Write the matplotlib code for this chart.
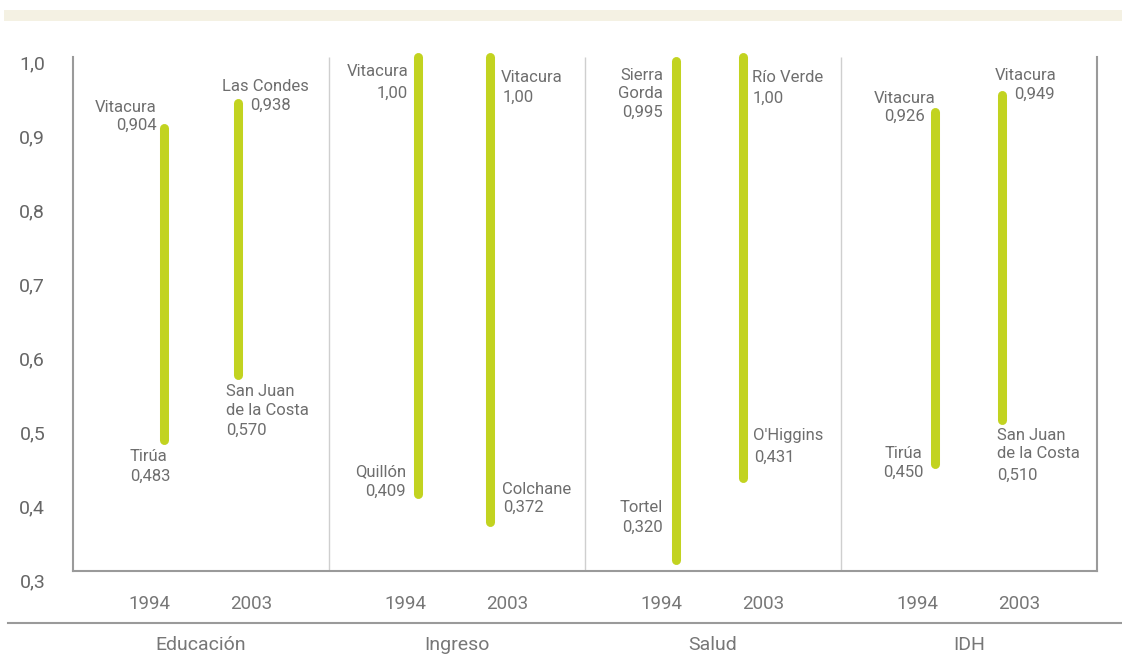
import matplotlib
matplotlib.use("Agg")
import matplotlib.pyplot as plt
from matplotlib.lines import Line2D
from matplotlib.patches import Rectangle
from matplotlib.transforms import ScaledTranslation, blended_transform_factory

plt.rcParams['font.family'] = ['Roboto', 'DejaVu Sans']

# datos
groups = ["Educación", "Ingreso", "Salud", "IDH"]
years = ["1994", "2003"]
low_vals = [[0.483, 0.570], [0.409, 0.372], [0.320, 0.431], [0.450, 0.510]]
high_vals = [[0.904, 0.938], [1.00, 1.00], [0.995, 1.00], [0.926, 0.949]]
low_names = [["Tirúa", "San Juan\nde la Costa"], ["Quillón", "Colchane"],
             ["Tortel", "O'Higgins"], ["Tirúa", "San Juan\nde la Costa"]]
high_names = [["Vitacura", "Las Condes"], ["Vitacura", "Vitacura"],
              ["Sierra\nGorda", "Río Verde"], ["Vitacura", "Vitacura"]]
y_ticks = [0.3, 0.4, 0.5, 0.6, 0.7, 0.8, 0.9, 1.0]

GREEN = "#c2d320"
TXT = "#6e6e6e"
AXC = "#9a9a9a"
Y_BOTTOM = 0.3054  # donde queda el eje inferior

# posiciones (layout)
bar_x = [[0.355, 0.645], [1.348, 1.629], [2.355, 2.617], [3.367, 3.629]]
# (name_dx, name_dy, name_ha, val_dx, val_dy, val_ha) en pixeles
hi_off = [[(-7, 21, 'right', -7, 3, 'right'), (-16, 16, 'left', 12, -2, 'left')],
          [(-10, -15, 'right', -10, -36, 'right'), (11, -20, 'left', 13, -40, 'left')],
          [(-13, -24, 'right', -13, -52, 'right'), (9, -20, 'left', 10, -41, 'left')],
          [(1, 13, 'right', -10, -5, 'right'), (54, 19, 'right', 53, 0, 'right')]]
lo_off = [[(-34, -17, 'left', -34, -37, 'left'), (-12, -26, 'left', -12, -55, 'left')],
          [(-12, 23, 'right', -12, 3, 'right'), (12, 32, 'left', 13, 14, 'left')],
          [(-13, 53, 'right', -13, 33, 'right'), (10, 43, 'left', 11, 21, 'left')],
          [(-13, 11, 'right', -11, -8, 'right'), (-5, -25, 'left', -5, -56, 'left')]]


def fmt(v):
    if v == 1.0:
        return "1,00"
    return ("%.3f" % v).replace(".", ",")


W, H = 1122, 655
fig = plt.figure(figsize=(W / 100, H / 100), dpi=100)
ax = fig.add_axes([73 / W, (H - 575) / H, (1097 - 73) / W, (575 - 57) / H])

# banda superior
fig.patches.append(Rectangle((4 / W, (H - 21) / H), (W - 4) / W, 11 / H,
                             transform=fig.transFigure, color="#f4f1e3", lw=0))

for i in range(len(groups)):
    for j in range(len(years)):
        x = bar_x[i][j]
        lo, hi = low_vals[i][j], high_vals[i][j]
        ax.plot([x, x], [lo, hi], color=GREEN, lw=6.5, solid_capstyle='round',
                clip_on=False, zorder=3)
        for v, name, off in ((hi, high_names[i][j], hi_off[i][j]),
                             (lo, low_names[i][j], lo_off[i][j])):
            ndx, ndy, nha, vdx, vdy, vha = off
            ax.annotate(name, (x, v), xytext=(ndx, ndy), textcoords='offset pixels',
                        ha=nha, va='center', fontsize=12, color=TXT,
                        linespacing=1.3, annotation_clip=False)
            ax.annotate(fmt(v), (x, v), xytext=(vdx, vdy), textcoords='offset pixels',
                        ha=vha, va='center', fontsize=12, color=TXT,
                        annotation_clip=False)

# separadores
ax.vlines(range(1, len(groups)), Y_BOTTOM, 1.0, color="#cfcfcf", lw=1, zorder=1)

ax.set_xlim(0, len(groups))
ax.set_ylim(0.3, 1.0)

for s in ['left', 'right', 'bottom']:
    ax.spines[s].set_color(AXC)
    ax.spines[s].set_linewidth(1.5)
ax.spines['top'].set_visible(False)
ax.spines['bottom'].set_position(('data', Y_BOTTOM))
ax.spines['left'].set_bounds(Y_BOTTOM, 1.0)
ax.spines['right'].set_bounds(Y_BOTTOM, 1.0)

ax.set_yticks(y_ticks)
ax.set_yticklabels([("%.1f" % t).replace(".", ",") for t in y_ticks])
ax.tick_params(axis='y', length=0, pad=20, labelsize=14, labelcolor="#666666")
shift = ScaledTranslation(0, -5 / 100, fig.dpi_scale_trans)
for lbl in ax.get_yticklabels():
    lbl.set_transform(lbl.get_transform() + shift)

xt = []
xl = []
for i in range(len(groups)):
    xt += [i + 0.30, i + 0.695]
    xl += years
ax.set_xticks(xt)
ax.set_xticklabels(xl)
ax.tick_params(axis='x', length=0, pad=17, labelsize=13.5, labelcolor="#777777")

# linea inferior y categorias
fig.add_artist(Line2D([8 / W, 1], [(H - 623) / H] * 2, transform=fig.transFigure,
                      color=AXC, lw=1.5))
tr = blended_transform_factory(ax.transData, fig.transFigure)
for i, g in enumerate(groups):
    ax.text(i + 0.5, (H - 645) / H, g, transform=tr, ha='center', va='center',
            fontsize=14, color="#777777")

plt.savefig("out.png", dpi=100)
